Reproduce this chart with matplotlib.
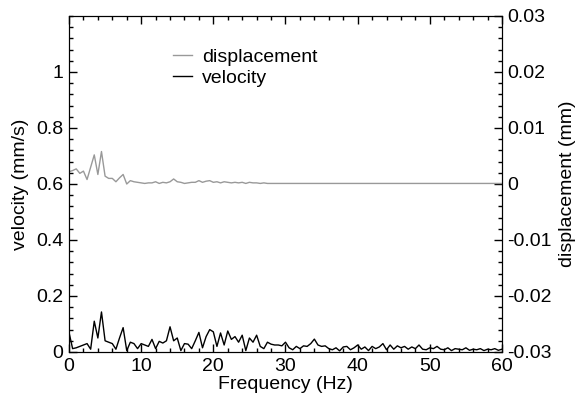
import numpy as np
import matplotlib
matplotlib.use('Agg')
import matplotlib.pyplot as plt
from matplotlib.ticker import MultipleLocator, FixedLocator

plt.rcParams['font.family'] = ['Liberation Sans', 'DejaVu Sans']
plt.rcParams['font.size'] = 14
plt.rcParams['axes.unicode_minus'] = False

# frequency grid (Hz), 0.5 Hz steps
freq = np.arange(0, 60.01, 0.5)

# velocity amplitude (mm/s)
velocity = [
    0.070, 0.012, 0.015, 0.020, 0.025, 0.030, 0.010, 0.110, 0.050, 0.143,
    0.040, 0.035, 0.030, 0.010, 0.050, 0.087, 0.005, 0.035, 0.030, 0.012,
    0.030, 0.025, 0.020, 0.045, 0.012, 0.038, 0.032, 0.040, 0.090, 0.040,
    0.050, 0.005, 0.030, 0.028, 0.012, 0.040, 0.070, 0.015, 0.055, 0.080,
    0.072, 0.020, 0.068, 0.025, 0.075, 0.045, 0.055, 0.035, 0.060, 0.005,
    0.050, 0.035, 0.060, 0.020, 0.012, 0.035, 0.028, 0.025, 0.025, 0.022,
    0.035, 0.015, 0.008, 0.020, 0.012, 0.022, 0.020, 0.030, 0.046, 0.025,
    0.020, 0.022, 0.012, 0.008, 0.015, 0.004, 0.018, 0.020, 0.008, 0.015,
    0.025, 0.010, 0.018, 0.005, 0.020, 0.012, 0.018, 0.030, 0.008, 0.025,
    0.010, 0.022, 0.015, 0.020, 0.010, 0.018, 0.012, 0.025, 0.010, 0.008,
    0.015, 0.012, 0.020, 0.010, 0.008, 0.015, 0.005, 0.012, 0.010, 0.008,
    0.015, 0.006, 0.010, 0.008, 0.012, 0.005, 0.010, 0.008, 0.012, 0.006,
    0.010,
]

# displacement amplitude (mm)
displacement = [
    0.0022, 0.0024, 0.0027, 0.0019, 0.0023, 0.0008, 0.0030, 0.0052, 0.0017, 0.0058,
    0.0014, 0.0010, 0.0010, 0.0004, 0.0011, 0.0017, 0.0000, 0.0006, 0.0004, 0.0003,
    0.0002, 0.0001, 0.0002, 0.0002, 0.0004, 0.0001, 0.0003, 0.0002, 0.0004, 0.0009,
    0.0004, 0.0003, 0.0001, 0.0002, 0.0003, 0.0003, 0.0006, 0.0003, 0.0005, 0.0006,
    0.0003, 0.0004, 0.0002, 0.0004, 0.0003, 0.0002, 0.0003, 0.0002, 0.0003, 0.0001,
    0.0003, 0.0002, 0.0002, 0.0001, 0.0002, 0.0001, 0.0001, 0.0001, 0.0001, 0.0001,
    0.0001, 0.0001, 0.0001, 0.0001, 0.0001, 0.0001, 0.0001, 0.0001, 0.0001, 0.0001,
    0.0001, 0.0001, 0.0001, 0.0001, 0.0001, 0.0001, 0.0001, 0.0001, 0.0001, 0.0001,
    0.0001, 0.0001, 0.0001, 0.0001, 0.0001, 0.0001, 0.0001, 0.0001, 0.0001, 0.0001,
    0.0001, 0.0001, 0.0001, 0.0001, 0.0001, 0.0001, 0.0001, 0.0001, 0.0001, 0.0001,
    0.0001, 0.0001, 0.0001, 0.0001, 0.0001, 0.0001, 0.0001, 0.0001, 0.0001, 0.0001,
    0.0001, 0.0001, 0.0001, 0.0001, 0.0001, 0.0001, 0.0001, 0.0001, 0.0001, 0.0001,
    0.0001,
]

vel_ticks = [0, 0.2, 0.4, 0.6, 0.8, 1.0]

fig, ax = plt.subplots(figsize=(5.76, 3.99), dpi=100)
fig.subplots_adjust(left=0.1198, right=0.8715, top=0.9599, bottom=0.1178)
ax2 = ax.twinx()

# displacement on the right axis, velocity on the left
disp_line, = ax2.plot(freq, displacement, color='#999999', lw=1.0, label='displacement')
vel_line, = ax.plot(freq, velocity, color='black', lw=1.0, label='velocity')
ax.set_zorder(ax2.get_zorder() + 1)
ax.patch.set_visible(False)

ax.set_xlim(0, 60)
ax.set_ylim(0, 1.2)
ax2.set_ylim(-0.03, 0.03)

ax.xaxis.set_major_locator(MultipleLocator(10))
ax.xaxis.set_minor_locator(MultipleLocator(2))
ax.yaxis.set_major_locator(FixedLocator(vel_ticks))
ax.yaxis.set_minor_locator(MultipleLocator(0.04))
ax2.yaxis.set_major_locator(MultipleLocator(0.01))
ax2.yaxis.set_minor_locator(MultipleLocator(0.002))

ax.tick_params(which='both', direction='in', top=True, right=False, width=1)
ax.tick_params(which='major', length=6, pad=4)
ax.tick_params(which='minor', length=3)
ax2.tick_params(which='both', direction='in', width=1)
ax2.tick_params(which='major', length=6, pad=4)
ax2.tick_params(which='minor', length=3)

ax.yaxis.set_major_formatter(plt.FuncFormatter(lambda v, p: '%g' % round(v, 2)))
ax2.yaxis.set_major_formatter(plt.FuncFormatter(lambda v, p: '%g' % round(v, 3)))

ax.set_xlabel('Frequency (Hz)', labelpad=1)
ax.set_ylabel('velocity (mm/s)', labelpad=5)
ax2.set_ylabel('displacement (mm)', labelpad=5)

ax.legend(handles=[disp_line, vel_line], loc='upper left', bbox_to_anchor=(0.24, 0.905),
          frameon=False, borderaxespad=0, borderpad=0, handlelength=1.0,
          handletextpad=0.5, labelspacing=0.2)

fig.savefig('out.png', dpi=100)
